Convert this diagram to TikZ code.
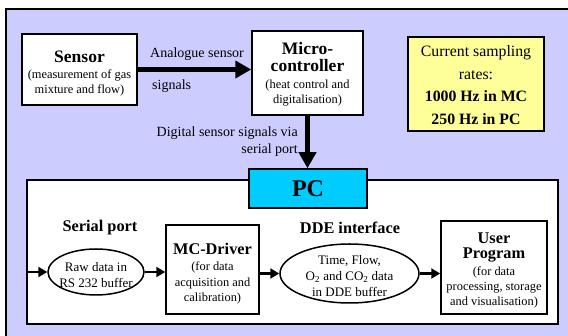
\documentclass[tikz,border=0pt]{standalone}
\usepackage{fontspec}
\setmainfont{Liberation Serif}
\usetikzlibrary{shapes.geometric}
\usetikzlibrary{positioning}
\usetikzlibrary{arrows.meta}
\usepackage{color}
\definecolor{lavender}{RGB}{204,204,255}
\definecolor{pccyan}{RGB}{0,204,255}
\definecolor{noteyellow}{RGB}{255,255,153}

\begin{document}
\begin{tikzpicture}[x=1pt, y=-1pt,
whitebox/.style={rectangle, draw=black, fill=white, line width=1.5pt, inner sep=0pt, align=center, font=\fontsize{12.4}{15.2}\selectfont},
bufnode/.style={ellipse, draw=black, fill=white, line width=1.5pt, inner sep=-20pt, align=center, font=\fontsize{13}{16}\selectfont},
notenode/.style={rectangle, draw=black, fill=noteyellow, line width=1.5pt, inner sep=0pt, align=center, font=\fontsize{15.8}{22.5}\selectfont},
labelnode/.style={inner sep=0pt, align=left, font=\fontsize{14}{17.5}\selectfont},
headnode/.style={inner sep=0pt, font=\fontsize{16.3}{19}\selectfont\bfseries},
bigarrow/.style={line width=5pt, -{Triangle[length=16pt,width=17pt]}},
smallarrow/.style={line width=2.5pt, -{Triangle[length=9pt,width=10pt]}},
]
\useasboundingbox (0,0) rectangle (568,336);
%Background
\fill[lavender] (6,9) rectangle (580,350);
\draw[line width=1.5pt] (6,350) -- (6,9) -- (580,9);

%Nodes
\node[whitebox, minimum width=115pt, minimum height=71pt] at (79.5,69.5)   (sensor)   [] {\rule{0pt}{20pt}{\fontsize{17.5}{20}\selectfont\bfseries Sensor}\\[0pt](measurement of gas\\mixture and flow)};
\node[whitebox, minimum width=111pt, minimum height=84pt] at (307.5,73)    (mc)       [] {\rule{0pt}{15pt}{\fontsize{17.5}{21}\selectfont\bfseries Micro-}\\[1pt]{\fontsize{17.5}{21}\selectfont\bfseries controller}\\[2pt](heat control and\\digitalisation)};
\node[notenode, minimum width=136pt, minimum height=94pt] at (476,84)      (rates)    [] {\rule{0pt}{13pt}Current sampling\\rates:\\\textbf{1000 Hz in MC}\\\textbf{250 Hz in PC}};

\node[labelnode, anchor=west]                             at (150,54)      (analogue) [] {Analogue sensor};
\node[labelnode, anchor=west]                             at (152,86)      (signals)  [] {signals};
\node[labelnode, anchor=east, align=right]                at (298,141.5)   (digital)  [] {Digital sensor signals via\\serial port};

\node[rectangle, draw=black, fill=white, line width=1.5pt, minimum width=531pt, minimum height=144pt] at (292.5,252) (pcframe) [] {};
\node[rectangle, draw=black, fill=pccyan, line width=1.5pt, minimum width=118pt, minimum height=39pt, font=\fontsize{24}{26}\selectfont\bfseries] at (308,188.5) (pc) [] {PC};

\node[headnode]                                           at (100,228)     (serialport) [] {Serial port};
\node[headnode]                                           at (350,228)     (ddeif)    [] {DDE interface};

\node[bufnode, minimum width=96pt, minimum height=46pt]   at (96,272)      (rawbuf)   [] {\rule{0pt}{15pt}Raw data in\\RS 232 buffer};
\node[whitebox, minimum width=93pt, minimum height=89pt]  at (212.5,269.5) (driver)   [] {\rule{0pt}{19.5pt}{\fontsize{16.3}{19}\selectfont\bfseries MC-Driver}\\[1pt](for data\\acquisition and\\calibration)};
\node[bufnode, minimum width=139pt, minimum height=59pt]  at (349.5,273.5) (ddebuf)   [] {\rule{0pt}{15pt}Time, Flow,\\O\textsubscript{2} and CO\textsubscript{2} data\\in DDE buffer};
\node[whitebox, minimum width=106pt, minimum height=93pt] at (494,267.5)   (program)  [] {\rule{0pt}{17pt}{\fontsize{16.3}{19}\selectfont\bfseries User}\\[0pt]{\fontsize{16.3}{19}\selectfont\bfseries Program}\\[1pt](for data\\processing, storage\\and visualisation)};

%Lines
\draw[bigarrow] (sensor.east) -- (sensor.east -| mc.west);
\draw[bigarrow] (mc.south) -- (mc.south |- pc.north);

\draw[smallarrow] (pcframe.west |- rawbuf.west) -- (rawbuf.west);
\draw[smallarrow] (rawbuf.east) -- (rawbuf.east -| driver.west);
\draw[smallarrow] (driver.east |- ddebuf.west) -- (ddebuf.west);
\draw[smallarrow] (ddebuf.east) -- (ddebuf.east -| program.west);

\end{tikzpicture}
\end{document}
